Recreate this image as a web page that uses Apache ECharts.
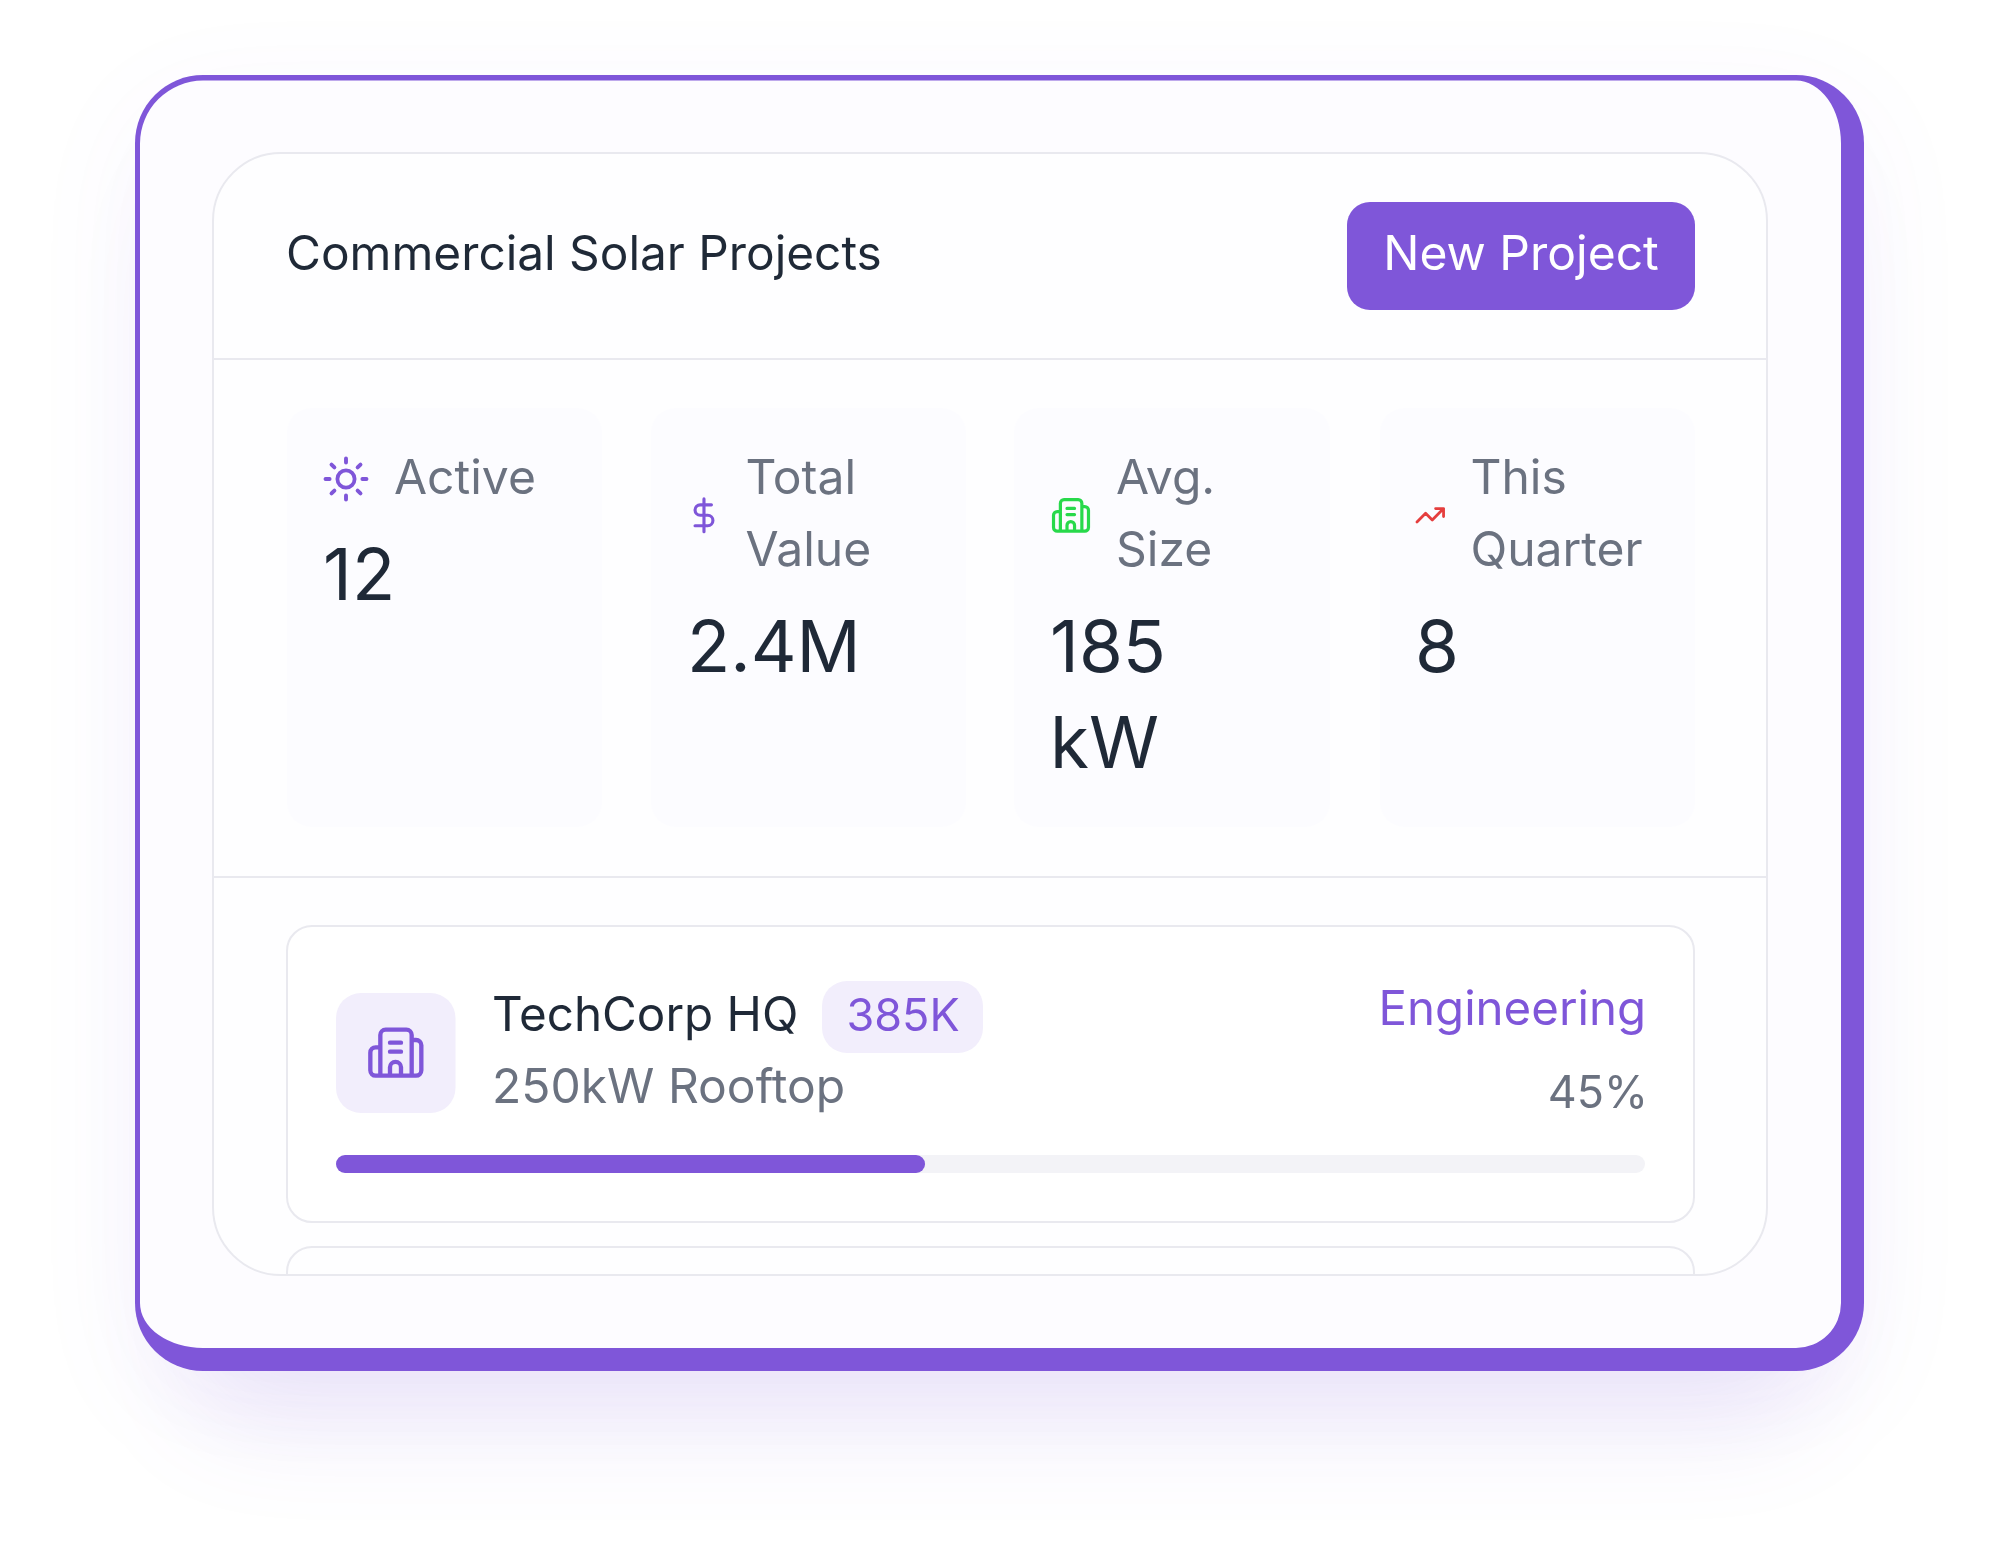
<!DOCTYPE html>
<html lang="en">
<head>
    <meta charset="UTF-8">
    <title>Commercial Solar Projects</title>
    <script src="https://cdn.jsdelivr.net/npm/echarts@6/dist/echarts.min.js"></script>
    <style>
        body { margin: 0; background: #fff; }
        #main { width: 1998px; height: 1566px; }
    </style>
</head>
<body>
<div id="main"></div>
<script>
    var panelTitle = 'Commercial Solar Projects';
    var buttonLabel = 'New Project';
    var statLabels = [['Active'], ['Total', 'Value'], ['Avg.', 'Size'], ['This', 'Quarter']];
    var statValues = [['12'], ['2.4M'], ['185', 'kW'], ['8']];
    var projectNames = ['TechCorp HQ'];
    var projectBudgets = ['385K'];
    var projectDetails = ['250kW Rooftop'];
    var projectPhases = ['Engineering'];
    var projectProgress = [45];

    var PURPLE = '#7F56D9', DARK = '#1F2937', GRAY = '#6B7280', LINE = '#E9E9EF', TINT = '#F2EEFC';

    // icon outlines, lucide style, in a 24 unit box
    var ICON_SUN = 'M12 2v2M12 20v2M4.93 4.93l1.41 1.41M17.66 17.66l1.41 1.41M2 12h2M20 12h2M6.34 17.66l-1.41 1.41M19.07 4.93l-1.41 1.41';
    var ICON_DOLLAR = 'M12 1V23M17 5H9.5a3.5 3.5 0 0 0 0 7h5a3.5 3.5 0 0 1 0 7H6';
    var ICON_TREND = 'M22 7L13.5 15.5L8.5 10.5L2 17M16 7h6v6';
    var ICON_BUILDING = 'M181 317V195a16 16 0 0 1 16-16h62a16 16 0 0 1 16 16V317' +
        'M181 232H167a16 16 0 0 0-16 16V301a16 16 0 0 0 16 16H288a16 16 0 0 0 16-16V226a16 16 0 0 0-16-16H275' +
        'M210 317V292a16.5 16.5 0 0 1 33 0V317M210 218H243M210 245H243';
    // card face: the thick right and bottom edge gives elliptical inner corners
    var CARD_FACE = 'M203 80.6H1796A45 63 0 0 1 1841 143.6V1303A45 45 0 0 1 1796 1348H203A63 45 0 0 1 140 1303V143.6A63 63 0 0 1 203 80.6Z';
    var NEXT_CARD = 'M287 1275V1272A25 25 0 0 1 312 1247H1669A25 25 0 0 1 1694 1272V1275';

    var gfx = echarts.graphic;
    gfx.registerShape('iconSun', gfx.extendPath(ICON_SUN));
    gfx.registerShape('iconDollar', gfx.extendPath(ICON_DOLLAR));
    gfx.registerShape('iconTrend', gfx.extendPath(ICON_TREND));
    gfx.registerShape('iconBuilding', gfx.extendPath(ICON_BUILDING));
    gfx.registerShape('cardFace', gfx.extendPath(CARD_FACE));
    gfx.registerShape('nextCard', gfx.extendPath(NEXT_CARD));

    function box(x0, y0, x1, y1, r, fill, stroke, extra) {
        var el = {
            type: 'rect',
            shape: {x: x0, y: y0, width: x1 - x0, height: y1 - y0, r: r},
            style: {fill: fill || 'none', stroke: stroke || 'none', lineWidth: stroke ? 2 : 0}
        };
        for (var k in extra) el.style[k] = extra[k];
        return el;
    }

    function label(str, x, y, size, color, align) {
        return {
            type: 'text', z: 5,
            style: {
                text: str, x: x, y: y, fill: color,
                font: size + 'px Inter', textAlign: align || 'left', textVerticalAlign: 'middle'
            }
        };
    }

    function icon(type, x, y, scale, color, width) {
        return {
            type: type, x: x, y: y, scaleX: scale, scaleY: scale, z: 5,
            style: {fill: 'none', stroke: color, lineWidth: width, lineCap: 'round', lineJoin: 'round'}
        };
    }

    var els = [];
    // two soft shadows, the tighter one is inset so it only shows below the card
    els.push(box(135, 75, 1864, 1371, 68, '#FFFFFF', null, {
        shadowBlur: 120, shadowOffsetY: 30, shadowColor: 'rgba(127,86,217,0.05)'
    }));
    els.push(box(185, 130, 1815, 1371, 68, '#FFFFFF', null, {
        shadowBlur: 110, shadowOffsetY: 50, shadowColor: 'rgba(127,86,217,0.13)'
    }));
    // outer card
    els.push(box(135, 75, 1864, 1371, 68, PURPLE));
    els.push({type: 'cardFace', style: {fill: '#FDFCFF'}});

    // inner panel
    els.push(box(213, 153, 1767, 1275, 68, '#FEFEFF', LINE));
    els.push({type: 'line', shape: {x1: 213, y1: 359, x2: 1767, y2: 359}, style: {stroke: LINE, lineWidth: 2}});
    els.push({type: 'line', shape: {x1: 213, y1: 877, x2: 1767, y2: 877}, style: {stroke: LINE, lineWidth: 2}});

    // header
    els.push(label(panelTitle, 286, 256, 47.8, DARK));
    els.push(box(1347, 202, 1695, 310, 23, PURPLE));
    els.push(label(buttonLabel, 1521, 256, 48, '#FFFFFF', 'center'));

    // stat cards
    var cardX = [[287, 602], [651, 966], [1014, 1330], [1380, 1695]];
    var labelX = [394, 745.5, 1116, 1470.5];
    var valueX = [323, 687, 1050, 1415];
    for (var i = 0; i < statLabels.length; i++) {
        els.push(box(cardX[i][0], 408, cardX[i][1], 827, 25, '#FCFCFF'));
        for (var j = 0; j < statLabels[i].length; j++) {
            els.push(label(statLabels[i][j], labelX[i], 480 + j * 72, 48, GRAY));
        }
        var valueTop = statLabels[i].length === 1 ? 579 : 651;
        for (var j = 0; j < statValues[i].length; j++) {
            els.push(label(statValues[i][j], valueX[i], valueTop + j * 96, 71, DARK));
        }
    }
    els.push(icon('iconSun', 321.4, 454.4, 2.05, PURPLE, 1.9));
    els.push({type: 'circle', z: 5, shape: {cx: 346, cy: 479, r: 8.6}, style: {fill: 'none', stroke: PURPLE, lineWidth: 3.8}});
    els.push(icon('iconDollar', 686.1, 497.4, 1.49, PURPLE, 2.1));
    els.push(icon('iconBuilding', 1071 - 227.5 * 0.2285, 515.3 - 248 * 0.2285, 0.2285, '#28D94B', 14));
    els.push(icon('iconTrend', 1414.3, 499.3, 1.33, '#E53E3E', 2.1));

    // project row
    els.push(box(287, 926, 1694, 1222, 25, '#FFFFFF', LINE));
    els.push({type: 'nextCard', style: {fill: 'none', stroke: LINE, lineWidth: 2}});
    els.push(box(336, 993, 455.5, 1113, 25, TINT));
    els.push(icon('iconBuilding', 320, 970, 1 / 3, PURPLE, 13));
    els.push(label(projectNames[0], 492, 1017, 47.6, DARK));
    els.push(box(822, 981, 983, 1053, 25, TINT));
    els.push(label(projectBudgets[0], 903, 1017, 45, PURPLE, 'center'));
    els.push(label(projectDetails[0], 492, 1089, 48, GRAY));
    els.push(label(projectPhases[0], 1646, 1011, 47.4, PURPLE, 'right'));
    els.push(label(projectProgress[0] + '%', 1648, 1095, 44.8, GRAY, 'right'));

    var chart = echarts.init(document.getElementById('main'));
    chart.setOption({
        animation: false,
        graphic: {elements: els},
        grid: {left: 336, top: 1155, width: 1309, height: 18},
        xAxis: {type: 'value', min: 0, max: 100, show: false},
        yAxis: {type: 'category', data: projectNames, show: false},
        series: [{
            type: 'bar',
            data: projectProgress,
            barWidth: '100%',
            silent: true,
            itemStyle: {color: PURPLE, borderRadius: 9},
            showBackground: true,
            backgroundStyle: {color: '#F3F3F7', borderRadius: 9}
        }]
    });
</script>
</body>
</html>
